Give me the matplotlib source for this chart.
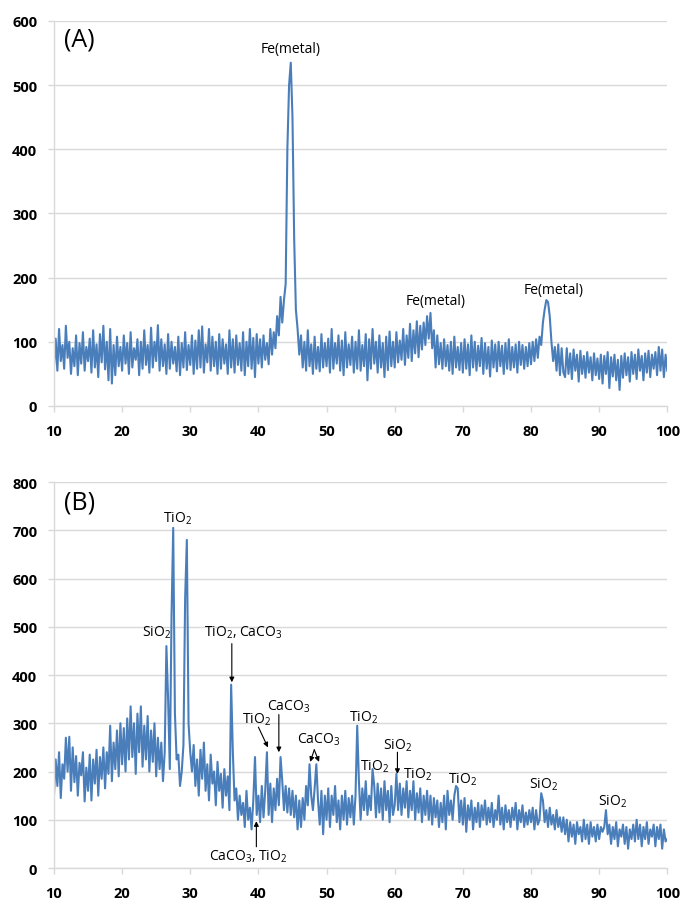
import numpy as np
import matplotlib
matplotlib.use("Agg")
import matplotlib.pyplot as plt

plt.rcParams["font.family"] = ["Open Sans", "DejaVu Sans"]
plt.rcParams["mathtext.fontset"] = "custom"
plt.rcParams["mathtext.rm"] = "Open Sans"
plt.rcParams["mathtext.it"] = "Open Sans"

# scan positions (2-theta, degrees), 0.25 step
two_theta = np.arange(10, 100.001, 0.25)

# (A) intensities, 20 values per 5 degrees
intensity_a = [
    60, 105, 55, 120, 70, 95, 58, 125, 75, 100, 50, 90, 62, 110, 48, 98, 66, 115, 55, 92,
    70, 105, 52, 118, 60, 96, 45, 112, 68, 125, 57, 100, 40, 120, 35, 95, 48, 108, 62, 92,
    55, 110, 66, 98, 50, 115, 60, 90, 72, 104, 48, 100, 58, 118, 64, 95, 52, 122, 60, 100,
    70, 126, 55, 104, 62, 96, 50, 112, 58, 100, 66, 92, 54, 108, 48, 98, 60, 115, 56, 95,
    64, 110, 50, 102, 58, 118, 60, 124, 52, 96, 68, 120, 55, 108, 62, 100, 50, 112, 58, 104,
    66, 96, 50, 118, 60, 104, 52, 110, 64, 98, 55, 115, 48, 100, 62, 120, 58, 106, 45, 112,
    66, 104, 60, 110, 72, 98, 65, 120, 80, 115, 90, 140, 110, 170, 130, 165, 190, 400, 500, 535,
    450, 260, 150, 120, 80, 110, 60, 100, 55, 118, 62, 96, 50, 108, 58, 92, 54, 112, 60, 98,
    62, 105, 52, 120, 58, 98, 66, 110, 55, 102, 48, 115, 60, 96, 64, 108, 52, 100, 58, 118,
    55, 95, 62, 112, 40, 104, 58, 120, 66, 100, 52, 110, 60, 98, 45, 108, 56, 116, 62, 100,
    60, 115, 68, 102, 72, 120, 64, 110, 75, 128, 70, 118, 82, 132, 76, 125, 88, 130, 95, 140,
    105, 145, 90, 118, 60, 110, 65, 98, 58, 104, 62, 95, 55, 100, 50, 108, 60, 92, 56, 98,
    52, 104, 58, 96, 48, 110, 60, 100, 55, 94, 62, 106, 50, 98, 58, 92, 46, 102, 60, 96,
    54, 100, 62, 94, 50, 98, 58, 104, 56, 92, 60, 96, 52, 100, 64, 95, 58, 92, 62, 98,
    65, 100, 70, 104, 75, 108, 95, 130, 150, 165, 162, 140, 100, 70, 92, 55, 96, 48, 90, 52,
    45, 90, 50, 82, 42, 88, 55, 80, 38, 86, 50, 78, 44, 84, 52, 76, 40, 82, 48, 74,
    42, 80, 35, 78, 50, 84, 28, 76, 46, 80, 40, 72, 25, 78, 44, 82, 48, 76, 38, 84,
    50, 80, 42, 88, 55, 78, 40, 82, 52, 86, 45, 80, 58, 84, 48, 92, 55, 88, 45, 80,
    55,
]

# (B) intensities, 20 values per 5 degrees
intensity_b = [
    150, 225, 170, 240, 145, 215, 185, 270, 200, 272, 160, 250, 178, 232, 150, 218, 192, 240, 138, 208,
    160, 235, 140, 225, 175, 245, 150, 230, 185, 250, 165, 240, 195, 295, 180, 260, 205, 285, 190, 300,
    215, 290, 200, 310, 225, 335, 230, 300, 195, 320, 240, 335, 210, 295, 225, 315, 200, 285, 220, 300,
    190, 270, 205, 260, 180, 240, 460, 350, 205, 520, 705, 320, 225, 235, 170, 200, 255, 560, 680, 300,
    240, 200, 255, 170, 225, 150, 245, 185, 260, 160, 215, 140, 235, 175, 200, 130, 220, 160, 195, 125,
    205, 150, 190, 120, 380, 240, 140, 165, 100, 150, 110, 135, 85, 160, 100, 125, 80, 140, 230, 110,
    150, 95, 170, 105, 160, 240, 110, 175, 95, 165, 120, 185, 130, 230, 180, 120, 170, 115, 165, 110,
    160, 105, 150, 80, 140, 85, 145, 100, 170, 130, 215, 150, 120, 165, 215, 140, 90, 160, 70, 150,
    100, 165, 85, 150, 110, 170, 95, 140, 80, 150, 100, 160, 90, 145, 105, 150, 90, 150, 295, 180,
    100, 165, 120, 180, 110, 150, 120, 205, 170, 105, 175, 115, 165, 100, 180, 120, 160, 95, 170, 110,
    130, 195, 120, 175, 110, 165, 125, 180, 105, 160, 120, 180, 100, 155, 115, 165, 95, 150, 110, 160,
    100, 150, 90, 145, 105, 140, 85, 135, 95, 150, 80, 160, 110, 140, 100, 150, 170, 165, 95, 140,
    90, 145, 75, 130, 100, 140, 80, 125, 95, 135, 85, 130, 100, 140, 90, 125, 95, 135, 85, 120,
    100, 150, 90, 125, 80, 130, 95, 120, 85, 125, 100, 135, 80, 120, 95, 130, 85, 115, 90, 120,
    95, 125, 80, 120, 90, 100, 155, 140, 95, 120, 85, 125, 90, 110, 80, 120, 85, 105, 75, 105,
    70, 100, 55, 95, 65, 90, 50, 95, 70, 85, 55, 100, 60, 90, 50, 95, 65, 85, 55, 90,
    60, 85, 75, 85, 120, 70, 90, 50, 85, 60, 95, 45, 80, 65, 90, 50, 85, 40, 80, 60,
    90, 55, 100, 60, 90, 45, 85, 60, 95, 50, 80, 65, 90, 45, 85, 60, 90, 40, 80, 55,
    60,
]

# peak labels: (text, x, y)
labels_a = [
    ("Fe(metal)", 44.7, 545),
    ("Fe(metal)", 66.0, 152),
    ("Fe(metal)", 83.3, 170),
]
labels_b = [
    ("TiO$_2$", 28.2, 725),
    ("SiO$_2$", 25.0, 489),
    ("TiO$_2$, CaCO$_3$", 37.8, 489),
    ("TiO$_2$", 39.7, 309),
    ("CaCO$_3$", 44.4, 336),
    ("CaCO$_3$", 48.8, 267),
    ("CaCO$_3$, TiO$_2$", 38.5, 25),
    ("TiO$_2$", 55.4, 313),
    ("TiO$_2$", 57.1, 211),
    ("SiO$_2$", 60.4, 255),
    ("TiO$_2$", 63.4, 195),
    ("TiO$_2$", 69.9, 184),
    ("SiO$_2$", 81.8, 174),
    ("SiO$_2$", 91.9, 139),
]
# arrows: (tail x, tail y, head x, head y)
arrows_b = [
    (36.1, 465, 36.1, 385),
    (40.0, 292, 41.4, 250),
    (43.0, 318, 43.0, 240),
    (48.2, 245, 47.6, 220),
    (48.2, 245, 48.9, 220),
    (39.7, 44, 39.7, 97),
    (60.4, 240, 60.4, 195),
]

line_color = "#4a7ebb"
grid_color = "#d9d9d9"

fig = plt.figure(figsize=(6.83, 9.04), dpi=100)
ax_a = fig.add_axes([0.079, 0.5498, 0.898, 0.4259])
ax_b = fig.add_axes([0.079, 0.0387, 0.898, 0.4270])


def style_axes(ax, ymax):
    ax.set_xlim(10, 100)
    ax.set_ylim(0, ymax)
    ax.set_xticks(range(10, 101, 10))
    ax.set_yticks(range(0, ymax + 1, 100))
    ax.grid(axis="y", color=grid_color, lw=1.0)
    ax.set_axisbelow(True)
    for s in ["top", "right"]:
        ax.spines[s].set_visible(False)
    for s in ["left", "bottom"]:
        ax.spines[s].set_color(grid_color)
        ax.spines[s].set_linewidth(1.0)
    ax.tick_params(axis="x", length=4, width=1.0, color=grid_color, pad=9)
    ax.tick_params(axis="y", length=4, width=1.0, color=grid_color, pad=8)
    for t in ax.get_xticklabels() + ax.get_yticklabels():
        t.set_fontweight("bold")
        t.set_fontsize(10.5)


ax_a.plot(two_theta, intensity_a, color=line_color, lw=1.5)
style_axes(ax_a, 600)
ax_a.text(0.041, 0.953, "(A)", transform=ax_a.transAxes, fontsize=18,
          ha="center", va="center")
for txt, x, y in labels_a:
    ax_a.text(x, y, txt, fontsize=10, ha="center", va="bottom")

ax_b.plot(two_theta, intensity_b, color=line_color, lw=1.5)
style_axes(ax_b, 800)
ax_b.text(0.041, 0.948, "(B)", transform=ax_b.transAxes, fontsize=18,
          ha="center", va="center")
for txt, x, y in labels_b:
    ax_b.text(x, y, txt, fontsize=10, ha="center", va="center")
for x0, y0, x1, y1 in arrows_b:
    ax_b.annotate("", xy=(x1, y1), xytext=(x0, y0),
                  arrowprops=dict(arrowstyle="-|>", color="black", lw=0.8,
                                  mutation_scale=7, shrinkA=0, shrinkB=0))

fig.savefig("out.png", dpi=100)
